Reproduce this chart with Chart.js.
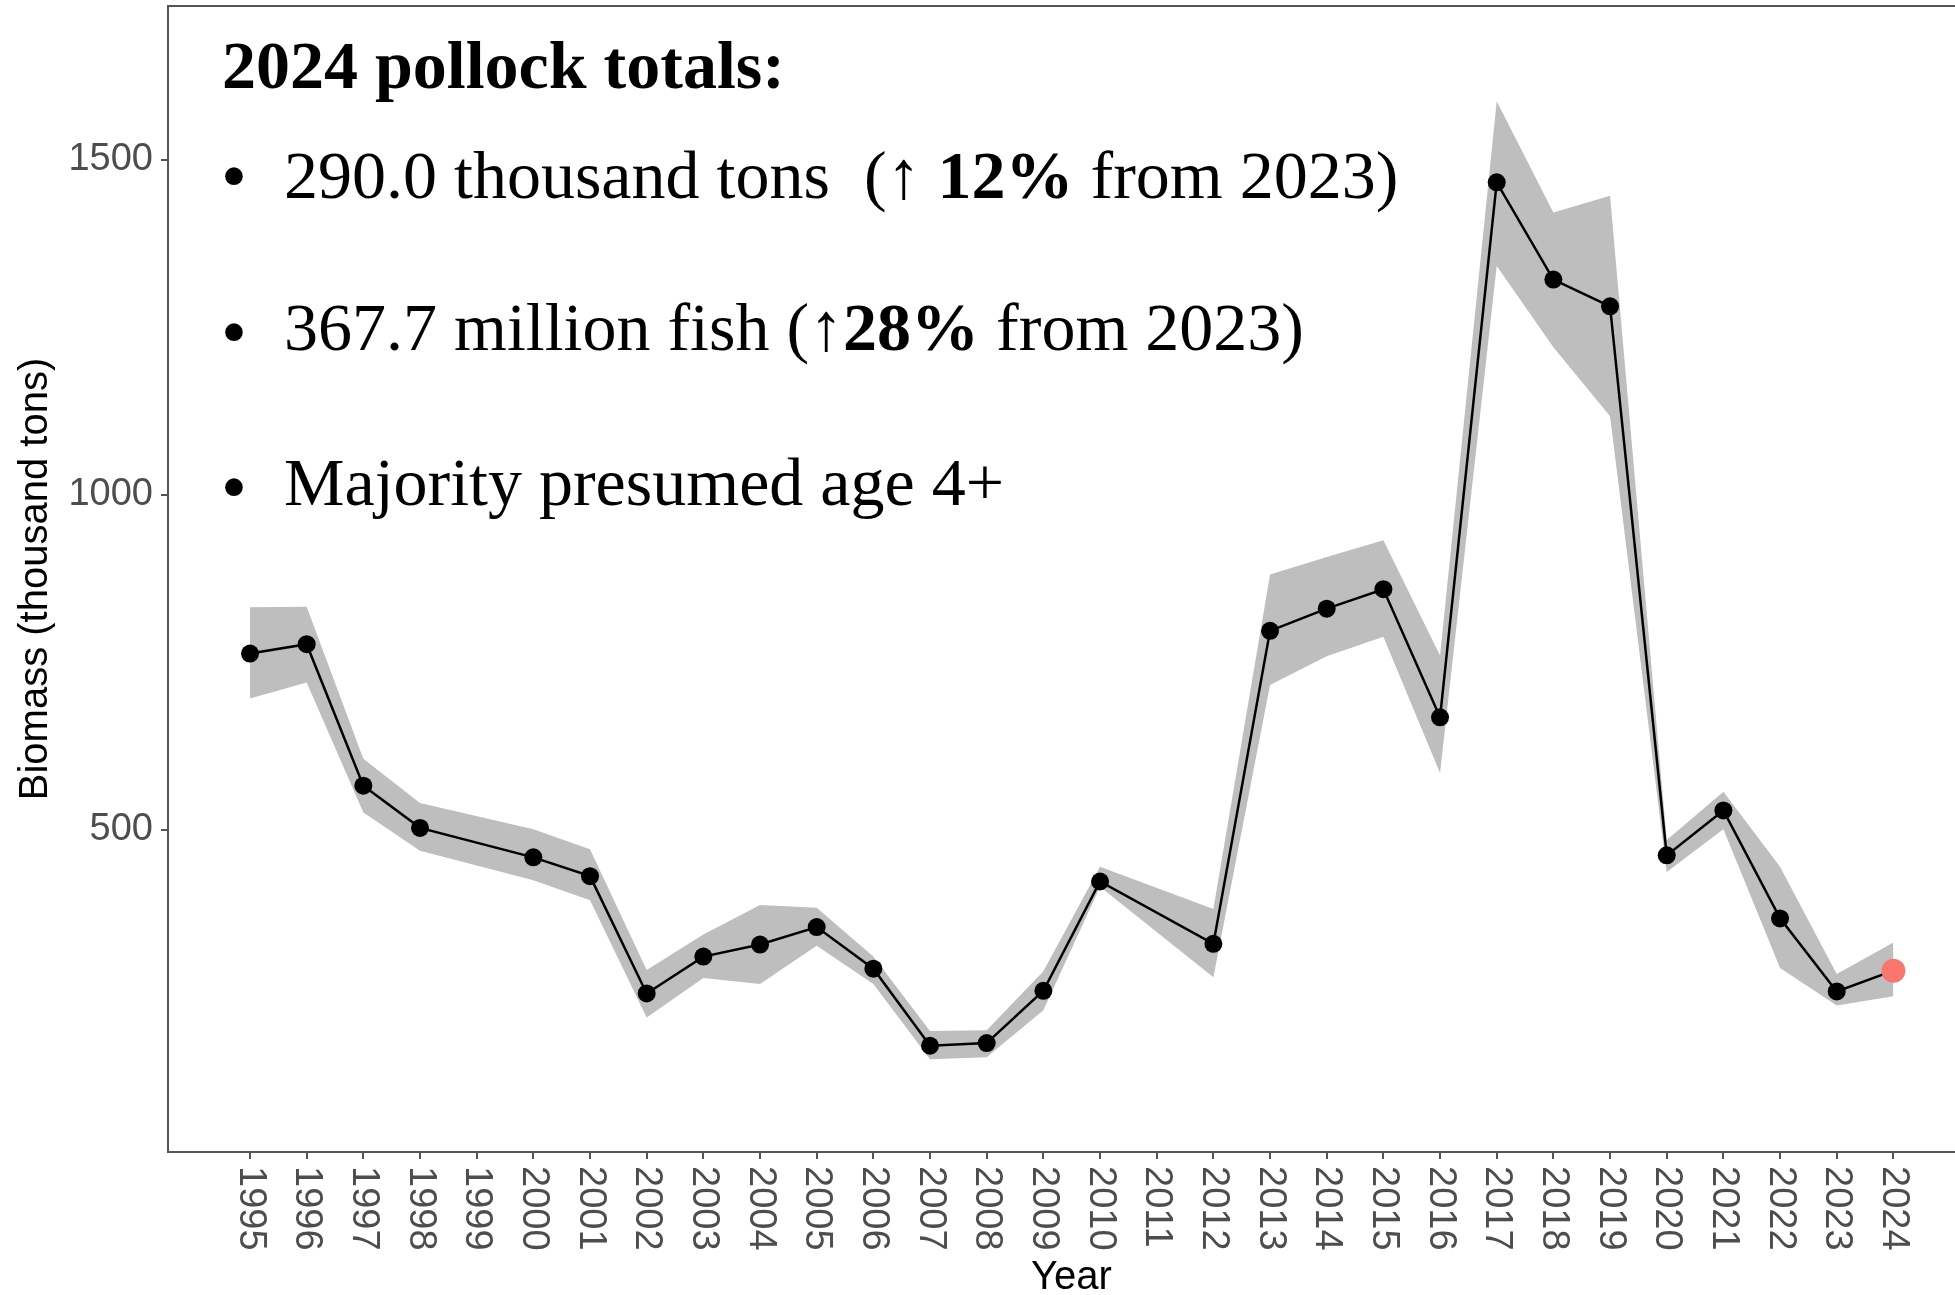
<!DOCTYPE html>
<html>
<head>
<meta charset="utf-8">
<title>Pollock biomass</title>
<script src="https://cdn.jsdelivr.net/npm/chart.js@4.4.1/dist/chart.umd.min.js"></script>
<style>
  html, body { margin: 0; padding: 0; background: #fff; overflow: hidden; }
  #wrap { position: relative; width: 1955px; height: 1295px; overflow: hidden; }
  #notes { position: absolute; left: 0; top: 0; font-family: "Liberation Serif", "DejaVu Serif", serif; color: #000; }
  .ln { position: absolute; white-space: pre; line-height: 1; font-size: 68px; }
  .title { font-weight: bold; }
  .dot { position: absolute; line-height: 1; font-size: 74px; }
</style>
</head>
<body>
<div id="wrap">
  <canvas id="bmChart" width="1975" height="1295"></canvas>
  <div id="notes">
    <div class="ln title" style="left:222px; top:31px;">2024 pollock totals:</div>
    <div class="dot" style="left:221px; top:139px;">•</div>
    <div class="ln" style="left:284px; top:141px;">290.0 thousand tons  (↑ <b>12%</b> from 2023)</div>
    <div class="dot" style="left:221px; top:295px;">•</div>
    <div class="ln" style="left:284px; top:293px;">367.7 million fish (↑<b>28%</b> from 2023)</div>
    <div class="dot" style="left:221px; top:450px;">•</div>
    <div class="ln" style="left:284px; top:448px;">Majority presumed age 4+</div>
  </div>
</div>
<script>
// survey years (tick labels), no survey in 1999 and 2011
const years = [1995, 1996, 1997, 1998, 1999, 2000, 2001, 2002, 2003, 2004,
               2005, 2006, 2007, 2008, 2009, 2010, 2011, 2012, 2013, 2014,
               2015, 2016, 2017, 2018, 2019, 2020, 2021, 2022, 2023, 2024];
// biomass, thousand tons
const biomass = [763, 777, 566, 503, null, 459, 431, 256, 311, 329,
                 355, 293, 178, 182, 260, 423, null, 330, 797, 830,
                 859, 668, 1466, 1321, 1281, 462, 529, 368, 259, 290];
const upper = [832, 833, 606, 540, null, 501, 471, 291, 344, 388,
               384, 311, 200, 201, 289, 445, null, 382, 881, 907,
               932, 760, 1587, 1421, 1446, 485, 557, 445, 285, 332];
const lower = [696, 720, 526, 469, null, 425, 395, 220, 279, 270,
               327, 270, 158, 161, 231, 415, null, 280, 716, 759,
               788, 585, 1341, 1220, 1117, 437, 501, 294, 238, 252];
const yTicks = [500, 1000, 1500];

const axisGrey = '#555555';
const labelGrey = '#4d4d4d';

function pts(vals) {
  return years.map((yr, i) => ({ x: yr, y: vals[i] }));
}

const lastIdx = years.length - 1;
const pointColors = years.map((yr, i) => i === lastIdx ? '#F8766D' : '#000000');
const pointSizes = years.map((yr, i) => i === lastIdx ? 12 : 9);

// top border of the panel + rotated year labels
const extras = {
  id: 'extras',
  afterDraw(chart) {
    const ctx = chart.ctx;
    const area = chart.chartArea;
    ctx.save();
    ctx.strokeStyle = axisGrey;
    ctx.lineWidth = 2;
    ctx.beginPath();
    ctx.moveTo(area.left, area.top);
    ctx.lineTo(area.right, area.top);
    ctx.stroke();

    const xs = chart.scales.x;
    ctx.fillStyle = labelGrey;
    ctx.font = '38px "Liberation Sans", Arial, sans-serif';
    ctx.textAlign = 'left';
    ctx.textBaseline = 'middle';
    years.forEach(yr => {
      const px = xs.getPixelForValue(yr);
      ctx.save();
      ctx.translate(px, xs.top + 14);
      ctx.rotate(Math.PI / 2);
      ctx.fillText(String(yr), 0, 0);
      ctx.restore();
    });
    ctx.restore();
  }
};

const ctx = document.getElementById('bmChart').getContext('2d');
const myChart = new Chart(ctx, {
  type: 'line',
  data: {
    datasets: [{
      label: 'Biomass',
      data: pts(biomass),
      borderColor: '#000000',
      borderWidth: 2.5,
      pointBackgroundColor: pointColors,
      pointBorderColor: pointColors,
      pointRadius: pointSizes,
      pointBorderWidth: 0,
      spanGaps: true,
      fill: false,
      tension: 0
    }, {
      label: 'upper',
      data: pts(upper),
      borderWidth: 0,
      pointRadius: 0,
      spanGaps: true,
      backgroundColor: 'rgb(190,190,190)',
      fill: '+1'
    }, {
      label: 'lower',
      data: pts(lower),
      borderWidth: 0,
      pointRadius: 0,
      spanGaps: true,
      fill: false
    }]
  },
  options: {
    responsive: false,
    animation: false,
    layout: { autoPadding: false, padding: { top: 6, left: 0, right: 0, bottom: 0 } },
    plugins: {
      legend: { display: false },
      tooltip: { enabled: false }
    },
    scales: {
      x: {
        type: 'linear',
        min: 1993.553,
        max: 2025.44,
        afterBuildTicks: s => { s.ticks = years.map(v => ({ value: v })); },
        afterFit: s => { s.height = 143; s.paddingLeft = 0; s.paddingRight = 0; },
        ticks: { display: false },
        grid: { drawOnChartArea: false, drawTicks: true, tickLength: 7, color: axisGrey, lineWidth: 2 },
        border: { display: true, color: axisGrey, width: 2 },
        title: {
          display: true,
          text: 'Year',
          color: '#000',
          font: { family: '"Liberation Sans", Arial, sans-serif', size: 40, lineHeight: 0.8 },
          padding: { top: 0, bottom: 1 }
        }
      },
      y: {
        type: 'linear',
        min: 19.5,
        max: 1729,
        afterBuildTicks: s => { s.ticks = yTicks.map(v => ({ value: v })); },
        afterFit: s => { s.width = 168; s.paddingTop = 0; s.paddingBottom = 0; },
        ticks: {
          color: labelGrey,
          padding: 8,
          callback: v => String(v),
          font: { family: '"Liberation Sans", Arial, sans-serif', size: 38 }
        },
        grid: { drawOnChartArea: false, drawTicks: true, tickLength: 7, color: axisGrey, lineWidth: 2 },
        border: { display: true, color: axisGrey, width: 2 },
        title: {
          display: true,
          text: 'Biomass (thousand tons)',
          color: '#000',
          font: { family: '"Liberation Sans", Arial, sans-serif', size: 40, lineHeight: 1.2 },
          padding: { top: 12, bottom: 0 }
        }
      }
    }
  },
  plugins: [extras]
});
</script>
</body>
</html>
